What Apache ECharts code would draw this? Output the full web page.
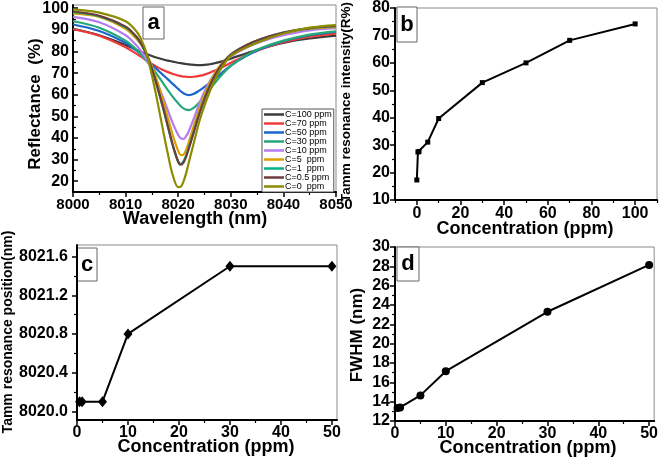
<!DOCTYPE html>
<html><head><meta charset="utf-8">
<script src="https://cdn.jsdelivr.net/npm/echarts@6/dist/echarts.min.js"></script>
<style>html,body{margin:0;padding:0;background:#fff}#c{width:661px;height:457px}</style>
</head><body><div id="c"></div>
<script>
// ---------- Panel a: reflectance spectra ----------
const wavelength = [8000,8005,8010,8012,8013,8014,8015,8016,8017,8018,8019,8020,8020.5,8021,8021.5,8022,8023,8024,8025,8026,8027,8028,8030,8033,8036,8040,8045,8050];
const curveNames = ['C=100 ppm','C=70 ppm','C=50 ppm','C=30 ppm','C=10 ppm','C=5  ppm','C=1  ppm','C=0.5 ppm','C=0  ppm'];
const rC100 = [90.5,87.5,83,80.8,79.8,78.8,77.9,77.1,76.4,75.8,75.3,74.8,74.6,74.4,74.2,74.0,73.8,73.7,73.8,74.1,74.6,75.2,76.7,79.2,81.5,84,86,87.3];
const rC70  = [90.3,87.3,82,79,77.5,75.8,74.2,72.8,71.5,70.5,69.6,68.9,68.6,68.4,68.3,68.2,68.3,68.7,69.3,70.2,71.2,72.3,74.8,78.3,81.3,84.3,86.8,88.3];
const rC50  = [92.5,89.5,84,80.5,78.5,76.2,73.8,71.6,69.4,67.2,64.9,62.7,61.6,60.7,60.1,59.8,60.4,61.9,63.6,65.5,67.5,69.5,73.5,78,81.5,84.8,87.5,89];
const rC30  = [94,91,85,81,78.5,75.6,72.6,69.3,65.8,62.2,58.9,56,54.7,53.7,53.1,52.9,54,56.4,59.3,62.4,65.5,68.4,73.3,78.3,81.8,85,87.8,89.3];
const rC10  = [96,93.5,87.5,83,80,76.2,71.3,65.6,59.5,53,46.6,41.4,39.8,39.6,40.8,43,49.2,55.8,61.5,66.2,70.1,73.2,77.6,81.8,84.8,87.5,89.8,90.8];
const rC5   = [97.5,96,90.5,86,83,78.7,73.2,66.3,58.2,49.6,41,34,32.1,32.3,34.5,38,45.8,53.4,60,65.5,70,73.6,78.6,82.9,85.9,88.5,90.5,91.3];
const rC1   = [98.2,96.3,91.2,86.8,83.2,78.3,71.8,63.8,55,45.7,36.3,29,28,29.2,31.8,35.4,43.2,51.2,58.2,64.1,69,73,78.5,82.9,85.9,88.7,90.7,91.7];
const rC05  = [98.5,96.5,91.5,87,83.5,78.5,72,64,55.2,45.8,36.5,29,27.6,28.6,31.3,35,43,51,58,64,69,73,78.5,83,86,88.8,90.8,91.8];
const rC0   = [99.5,98,94,89.5,85.5,79,69,57.5,45,33,22.5,17.3,17.5,19.8,23.6,28.5,38,47.5,55,61.5,67,71.5,78,82,85,88.3,91,92.2];
const curveValues = [rC100,rC70,rC50,rC30,rC10,rC5,rC1,rC05,rC0];
const curveColors = ['#3c3c3c','#f03a3a','#1a66cc','#25a877','#b57cf0','#d9a000','#00b386','#6e3c3c','#8c8c00'];
const aXTicks = [8000,8010,8020,8030,8040,8050];
const aXMinor = [8005,8015,8025,8035,8045];
const aYTicks = [20,30,40,50,60,70,80,90,100];
const aYMinor = [25,35,45,55,65,75,85,95];

// ---------- Panel b: intensity vs concentration ----------
const concB = [0,0.5,1,5,10,30,50,70,100];
const intensityB = [17.3,27.5,27.7,31.1,39.7,52.8,60.0,68.2,74.2];
const bXTicks = [0,20,40,60,80,100];
const bXMinor = [-10,10,30,50,70,90,110];
const bYTicks = [10,20,30,40,50,60,70,80];
const bYMinor = [15,25,35,45,55,65,75];

// ---------- Panel c: resonance position ----------
const concCD = [0.5,1,5,10,30,50];
const positionC = [8020.1,8020.1,8020.1,8020.8,8021.5,8021.5];
const cXTicks = [0,10,20,30,40,50];
const cXMinor = [5,15,25,35,45];
const cYTicks = [8020.0,8020.4,8020.8,8021.2,8021.6];
const cYMinor = [8020.2,8020.6,8021.0,8021.4];

// ---------- Panel d: FWHM ----------
const fwhmD = [13.35,13.4,14.65,17.15,23.3,28.15];
const dXTicks = [0,10,20,30,40,50];
const dXMinor = [5,15,25,35,45];
const dYTicks = [12,14,16,18,20,22,24,26,28,30];
const dYMinor = [13,15,17,19,21,23,25,27,29];

const FONT = 'Liberation Sans, Arial, sans-serif';
const grids = [
  {left:73, top:5, width:263, height:187},
  {left:395, top:7, width:262, height:193},
  {left:77, top:245, width:260, height:175},
  {left:395, top:247, width:261, height:174}
].map(g => Object.assign(g, {show:true, borderColor:'#8a8a8a', borderWidth:1, backgroundColor:'rgba(0,0,0,0)'}));

function mainAxis(dim, gi, min, max, ticks, inside, margin, fmt, fs) {
  return {
    type:'value', gridIndex:gi, min:min, max:max, position: dim==='x'?'bottom':'left',
    axisLine:{show:true, onZero:false, lineStyle:{color:'#000', width:2}},
    axisTick:{show:true, customValues:ticks, inside:inside, length:5, lineStyle:{color:'#000', width:1.5}},
    axisLabel:{show:true, customValues:ticks, margin:margin, color:'#000', fontSize:fs||16, fontWeight:'bold', fontFamily:FONT,
      formatter: fmt || (v => String(v))},
    splitLine:{show:false}
  };
}
function minorAxis(dim, gi, min, max, ticks, inside) {
  return {
    type:'value', gridIndex:gi, min:min, max:max, position: dim==='x'?'bottom':'left', offset:0,
    axisLine:{show:false, onZero:false},
    axisTick:{show:true, customValues:ticks, inside:inside, length:3, lineStyle:{color:'#000', width:1.2}},
    axisLabel:{show:false}, splitLine:{show:false}
  };
}

const xAxes = [
  mainAxis('x',0,8000,8050,aXTicks,false,5,null,15),
  mainAxis('x',1,-10,110,bXTicks,false,6,null,16),
  mainAxis('x',2,0,51,cXTicks,false,5,null,16),
  mainAxis('x',3,0,51,dXTicks,false,5,null,16),
  minorAxis('x',0,8000,8050,aXMinor,false),
  minorAxis('x',1,-10,110,bXMinor,false),
  minorAxis('x',2,0,51,cXMinor,false),
  minorAxis('x',3,0,51,dXMinor,false)
];
const yAxes = [
  mainAxis('y',0,15,101.5,aYTicks,true,4,null,16),
  mainAxis('y',1,10,80,bYTicks,false,5,null,16),
  mainAxis('y',2,8019.91,8021.72,cYTicks,false,9,v=>v.toFixed(1),16),
  mainAxis('y',3,12,30,dYTicks,false,5,null,16),
  minorAxis('y',0,15,101.5,aYMinor,true),
  minorAxis('y',1,10,80,bYMinor,false),
  minorAxis('y',2,8019.91,8021.72,cYMinor,false),
  minorAxis('y',3,12,30,dYMinor,false)
];

const series = [];
curveNames.forEach((n,i) => {
  series.push({
    name:n, type:'line', xAxisIndex:0, yAxisIndex:0, showSymbol:false, symbol:'none', smooth:0.35,
    data: wavelength.map((w,k)=>[w, curveValues[i][k]]),
    lineStyle:{color:curveColors[i], width:2.2}, itemStyle:{color:curveColors[i]}, z:2+i
  });
});
series.push({type:'line', xAxisIndex:1, yAxisIndex:1, data:concB.map((c,k)=>[c,intensityB[k]]),
  symbol:'rect', symbolSize:5, lineStyle:{color:'#000', width:2}, itemStyle:{color:'#000'}});
series.push({type:'line', xAxisIndex:2, yAxisIndex:2, data:concCD.map((c,k)=>[c,positionC[k]]),
  symbol:'diamond', symbolSize:[9,11], lineStyle:{color:'#000', width:2}, itemStyle:{color:'#000'}, clip:false});
series.push({type:'line', xAxisIndex:3, yAxisIndex:3, data:concCD.map((c,k)=>[c,fwhmD[k]]),
  symbol:'circle', symbolSize:8, lineStyle:{color:'#000', width:2}, itemStyle:{color:'#000'}, clip:false});

function title(text, x, y, size, rot) {
  return {type:'text', x:x, y:y, rotation: rot ? Math.PI/2 : 0, z:50,
    style:{text:text, fill:'#000', font:'bold '+size+'px '+FONT, textAlign:'center', textVerticalAlign:'middle'}};
}
function labelBox(letter, x, y, w, h) {
  return {type:'group', x:x, y:y, z:60, children:[
    {type:'rect', shape:{x:0,y:0,width:w,height:h}, style:{fill:'#fff', stroke:'#666', lineWidth:1}},
    {type:'text', x:w/2, y:h/2, style:{text:letter, fill:'#000', font:'bold 22px '+FONT, textAlign:'center', textVerticalAlign:'middle'}}
  ]};
}

const option = {
  animation:false,
  backgroundColor:'#fff',
  grid: grids,
  xAxis: xAxes,
  yAxis: yAxes,
  legend:{
    show:true, orient:'vertical', left:262, top:109, itemGap:0, itemWidth:20, itemHeight:2.5,
    padding:[1,2,1,2], borderColor:'#555', borderWidth:1, backgroundColor:'#fff',
    data: curveNames.map(n=>({name:n, icon:'rect'})),
    textStyle:{fontSize:9, lineHeight:8.9, color:'#000', fontFamily:FONT, padding:[0,0,0,-4]}
  },
  series: series,
  graphic: [
    title('Reflectance  (%)', 35, 104, 17, true),
    title('Wavelength (nm)', 195, 219, 18, false),
    title('Tamm resonance intensity(R%)', 346, 102, 13.5, true),
    title('Concentration (ppm)', 525, 229, 18, false),
    title('Tamm resonance position(nm)', 8, 332, 14, true),
    title('Concentration (ppm)', 206, 447, 18, false),
    title('FWHM (nm)', 357, 335, 17, true),
    title('Concentration (ppm)', 528, 448, 18, false),
    labelBox('a', 143, 7, 21, 32),
    labelBox('b', 397, 7, 20, 35),
    labelBox('c', 77, 248, 20, 33),
    labelBox('d', 397, 247, 22, 34)
  ]
};
const chart = echarts.init(document.getElementById('c'));
chart.setOption(option);
</script></body></html>
